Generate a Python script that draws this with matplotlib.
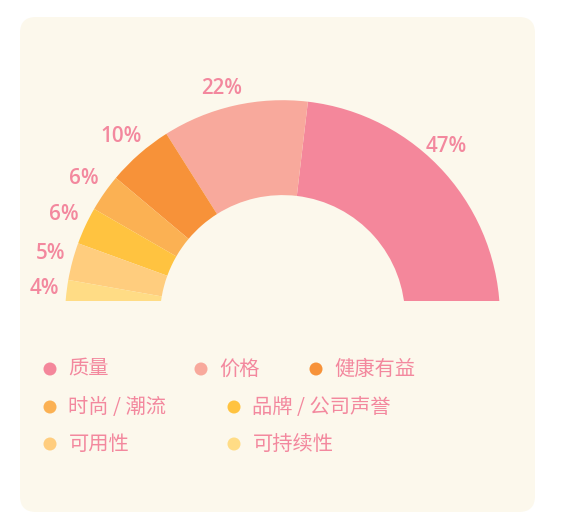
import matplotlib
matplotlib.use("Agg")
import matplotlib.pyplot as plt
from matplotlib.patches import Wedge, FancyBboxPatch, Circle, Rectangle
import numpy as np

# ---- data ----
categories = ["质量", "价格", "健康有益", "时尚 / 潮流", "品牌 / 公司声誉", "可用性", "可持续性"]
values = [47, 22, 10, 6, 6, 5, 4]
colors = ["#F4879B", "#F8A99C", "#F79239", "#FBB153", "#FFC340", "#FFCD7E", "#FFDC85"]

# ---- layout / style ----
W, H = 565, 529
CARD_BG = "#FCF8EC"
TEXT_COLOR = "#F3889E"
CX, CY = 282.5, 317.7          # pie centre (pixels)
R_OUT, R_IN = 217.5, 122.6
CLIP_Y = 300.7                 # lower cut of the half ring
MIN_ANGLE, SMALL_CUTOFF = 10.0, 11.0
FONT = ["Noto Sans CJK SC", "DejaVu Sans"]
LABEL_FONT = ["Open Sans", "DejaVu Sans"]

fig = plt.figure(figsize=(W / 100, H / 100), dpi=100)
fig.patch.set_facecolor("white")
ax = fig.add_axes([0, 0, 1, 1])
ax.set_xlim(0, W)
ax.set_ylim(H, 0)
ax.axis("off")

card = FancyBboxPatch((20, 17), 515, 495, boxstyle="round,pad=0,rounding_size=16",
                      fc=CARD_BG, ec="none", zorder=0)
ax.add_patch(card)

# angles (semi-circle, small slices get a minimum angle)
total = sum(values)
natural = [v / total * 180 for v in values]
small = [a < SMALL_CUTOFF for a in natural]
rest = 180 - MIN_ANGLE * sum(small)
big_sum = sum(v for v, s in zip(values, small) if not s)
angles = [MIN_ANGLE if s else v / big_sum * rest for v, s in zip(values, small)]

clip = Rectangle((0, 0), W, CLIP_Y, transform=ax.transData)
start = 0.0
mids = []
for ang, col in zip(angles, colors):
    a, b = start, start + ang
    w = Wedge((CX, CY), R_OUT, -b, -a, width=R_OUT - R_IN, fc=col, ec="none",
              lw=0, zorder=2)
    ax.add_patch(w)
    w.set_clip_path(clip)
    mids.append((a + b) / 2)
    start = b

# percentage labels
for v, m in zip(values, mids):
    c = np.cos(np.radians(m))
    if c < 0:
        phi = np.radians(m + 3)
        r_l = R_OUT + 0.5 + 20 * abs(c)
    else:
        phi = np.radians(m + 2)
        r_l = R_OUT + 9
    x = CX + r_l * np.cos(phi)
    y = min(CLIP_Y - r_l * np.sin(phi), CLIP_Y - 14) + 2
    ax.text(x, y, f"{v}%", ha="center", va="center", fontsize=14.8,
            fontweight="semibold", color=TEXT_COLOR, family=LABEL_FONT, zorder=3)

# legend
LEGEND_SLOTS = [(50, 369), (201, 369), (316, 369), (50, 407), (234, 407), (50, 444), (234, 444)]
for (lx, ly), cat, col in zip(LEGEND_SLOTS, categories, colors):
    ax.add_patch(Circle((lx, ly), 6.5, fc=col, ec="none", zorder=3))
    ax.text(lx + 18.5, ly, cat, ha="left", va="center", fontsize=14.6,
            color=TEXT_COLOR, family=FONT, zorder=3)

fig.savefig("out.png", dpi=100, facecolor="white")
